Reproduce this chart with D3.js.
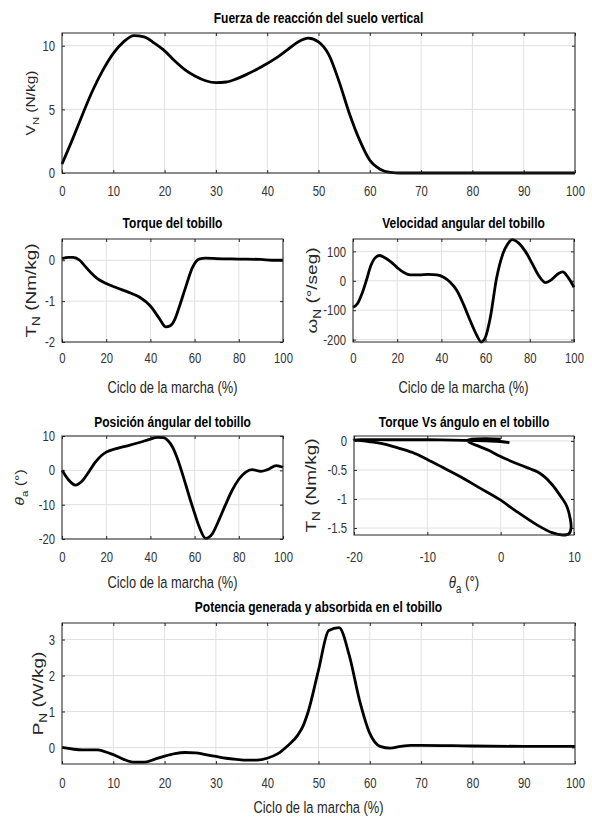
<!DOCTYPE html>
<html>
<head>
<meta charset="utf-8">
<script src="https://cdn.jsdelivr.net/npm/d3@7"></script>
<style>
body { margin: 0; background: #fff; }
text { font-family: "Liberation Sans", Arial, sans-serif; }
</style>
</head>
<body>
<div id="fig"></div>
<script>
// ---- data ----
// vertical ground reaction force (N/kg) vs % gait cycle
var vgrfPct = [0,2,4,6,8,10,12,14,16,18,20,22,24,26,28,30,32,34,36,38,40,42,44,46,48,50,52,54,56,58,60,62,64,66,70,80,90,100];
var vgrfVal = [0.7,2.6,4.6,6.5,8.1,9.4,10.3,10.8,10.7,10.2,9.6,8.8,8.1,7.6,7.25,7.1,7.15,7.4,7.75,8.15,8.6,9.1,9.7,10.3,10.6,10.3,9.3,7.2,4.7,2.6,1.0,0.3,0.05,0,0,0,0,0];

// ankle torque (Nm/kg)
var torquePct = [0,3,5,8,10,13,16,20,25,30,35,40,44,47,49,51,53,56,59,62,65,70,80,90,95,100];
var torqueVal = [0.04,0.07,0.07,0.0,-0.12,-0.3,-0.45,-0.57,-0.68,-0.78,-0.9,-1.12,-1.42,-1.63,-1.6,-1.45,-1.15,-0.65,-0.18,0.03,0.05,0.04,0.03,0.02,0.0,0.0];

// ankle angular velocity (deg/s)
var velPct = [0,2,4,6,8,10,12,14,17,20,23,26,30,34,38,41,44,47,50,53,56,58,60,62,65,68,70,72,75,78,81,84,87,90,93,95,97,100];
var velVal = [-90,-78,-45,0,50,78,86,80,65,45,28,20,20,22,20,12,-5,-33,-80,-135,-185,-208,-190,-130,10,95,125,140,128,100,60,18,-6,5,25,30,15,-22];

// ankle angle (deg)
var anglePct = [0,3,6,9,12,15,18,20,25,30,35,40,43,46,48,50,52,54,56,58,60,62,65,68,71,74,77,80,83,86,90,93,97,100];
var angleVal = [0,-2.8,-4.3,-3.2,-0.6,2.3,4.4,5.3,6.4,7.2,8.1,9.1,9.6,9.5,8.6,6.8,3.8,0,-4.2,-8.5,-12.5,-16.3,-19.8,-18.5,-14.5,-10,-5.8,-2.6,-0.6,0.2,-0.3,0.2,1.4,0.9];

// torque vs angle loop, in gait order
var loopAngle = [0,-2,-4,-4.5,-4.2,-3,-1.5,0,2,4,5,6,7,8,9,9.5,9.6,9.3,8.5,7,5,2,0,-3,-5,-8,-10,-12,-14,-16,-18,-20,-15,-10,-5,-2,0,1.2];
var loopTorque = [0.03,0.04,0.03,0.01,-0.03,-0.09,-0.17,-0.27,-0.38,-0.48,-0.53,-0.62,-0.75,-0.92,-1.12,-1.35,-1.5,-1.6,-1.62,-1.58,-1.45,-1.2,-1.02,-0.8,-0.65,-0.45,-0.32,-0.2,-0.12,-0.05,-0.01,0.02,0.02,0.02,0.01,0.0,-0.01,-0.03];

// ankle power (W/kg)
var powerPct = [0,4,7,8,10,12,14,16,18,20,22,24,26,28,30,32,34,36,38,40,42,44,46,47,48,50,52,54,56,58,60,62,64,66,68,70,80,90,100];
var powerVal = [0,-0.07,-0.07,-0.1,-0.2,-0.33,-0.41,-0.41,-0.33,-0.24,-0.17,-0.14,-0.15,-0.2,-0.25,-0.3,-0.33,-0.35,-0.35,-0.3,-0.18,0.05,0.35,0.6,1.0,2.15,3.25,3.33,2.56,1.31,0.39,0.03,-0.02,0.03,0.06,0.06,0.04,0.03,0.03];

// tick values
var ticksPct10 = [0,10,20,30,40,50,60,70,80,90,100];
var ticksPct20 = [0,20,40,60,80,100];
var ticksVgrf = [0,5,10];
var ticksTorque = [-2,-1,0];
var ticksVel = [-200,-100,0,100];
var ticksAngle = [-20,-10,0,10];
var ticksLoopX = [-20,-10,0,10];
var ticksLoopY = [-1.5,-1,-0.5,0];
var ticksPower = [0,1,2,3];

// ---- drawing ----
var W = 592, H = 819;
var SX = 0.78;   // the original figure was squeezed horizontally
var INK = "#262626";

var svg = d3.select("#fig").append("svg")
    .attr("width", W)
    .attr("height", H);

var fmt = function(d) { return String(d); };

// text made of parts: {t: string, sub: bool, it: bool}
function label(x, y, parts, size, opts) {
    opts = opts || {};
    var tr = "translate(" + x + "," + y + ")";
    if (opts.rotate) tr += " rotate(-90) scale(1," + SX + ")";
    else tr += " scale(" + SX + ",1)";
    var t = svg.append("text")
        .attr("transform", tr)
        .attr("text-anchor", "middle")
        .attr("font-size", size)
        .attr("font-weight", opts.bold ? "bold" : null)
        .attr("fill", opts.color || INK);
    var shift = 0;
    parts.forEach(function(p) {
        var s = t.append("tspan").text(p.t);
        if (p.sub) {
            s.attr("font-size", size * 0.72).attr("dy", size * 0.3 - shift);
            shift = size * 0.3;
        } else if (shift) {
            s.attr("dy", -shift);
            shift = 0;
        }
        if (p.it) s.attr("font-style", "italic");
    });
}

function panel(p) {
    var x = d3.scaleLinear().domain(p.xDom).range([p.left, p.right]);
    var y = d3.scaleLinear().domain(p.yDom).range([p.bottom, p.top]);
    var g = svg.append("g");

    // grid
    g.append("g").selectAll("line")
        .data(p.xTicks).enter().append("line")
        .attr("x1", function(d) { return x(d); })
        .attr("x2", function(d) { return x(d); })
        .attr("y1", p.top).attr("y2", p.bottom)
        .attr("stroke", "#e0e0e0");
    g.append("g").selectAll("line")
        .data(p.yTicks).enter().append("line")
        .attr("y1", function(d) { return y(d); })
        .attr("y2", function(d) { return y(d); })
        .attr("x1", p.left).attr("x2", p.right)
        .attr("stroke", "#e0e0e0");

    // axes, ticks pointing inwards
    var xa = g.append("g")
        .attr("transform", "translate(0," + p.bottom + ")")
        .call(d3.axisBottom(x).tickValues(p.xTicks).tickFormat(fmt)
            .tickSizeInner(-3).tickSizeOuter(0).tickPadding(p.xPad));
    var ya = g.append("g")
        .attr("transform", "translate(" + p.left + ",0)")
        .call(d3.axisLeft(y).tickValues(p.yTicks).tickFormat(fmt)
            .tickSizeInner(-3).tickSizeOuter(0).tickPadding(7 / SX));
    g.append("g")
        .attr("transform", "translate(0," + p.top + ")")
        .call(d3.axisTop(x).tickValues(p.xTicks).tickFormat("").tickSizeInner(-3).tickSizeOuter(0));
    g.append("g")
        .attr("transform", "translate(" + p.right + ",0)")
        .call(d3.axisRight(y).tickValues(p.yTicks).tickFormat("").tickSizeInner(-3).tickSizeOuter(0));
    g.selectAll(".domain").remove();
    g.selectAll(".tick line").attr("stroke", INK);
    [xa, ya].forEach(function(a) {
        a.attr("font-size", 14.5).attr("font-family", null);
        a.selectAll("text")
            .attr("fill", "#333")
            .attr("transform", "scale(" + SX + ",1)");
    });

    // data line
    var line = d3.line()
        .x(function(i) { return x(p.xs[i]); })
        .y(function(i) { return y(p.ys[i]); })
        .curve(p.curve || d3.curveMonotoneX);
    g.append("path")
        .datum(d3.range(p.xs.length))
        .attr("d", line)
        .attr("fill", "none")
        .attr("stroke", "#000")
        .attr("stroke-width", 2.8)
        .attr("stroke-linejoin", "round");

    // box
    g.append("rect")
        .attr("x", p.left).attr("y", p.top)
        .attr("width", p.right - p.left).attr("height", p.bottom - p.top)
        .attr("fill", "none")
        .attr("stroke", INK);

    var cx = (p.left + p.right) / 2;
    label(cx, p.titleY, [{t: p.title}], 15.4, {bold: true, color: "#000"});
    if (p.xLabel) label(cx, p.xLabelY, p.xLabel, p.xLabelSize || 16.5);
    label(p.yLabelX, (p.top + p.bottom) / 2, p.yLabel, p.yLabelSize || 19, {rotate: true});
}

var ciclo = [{t: "Ciclo de la marcha (%)"}];

panel({
    left: 62, right: 575, top: 33, bottom: 173,
    xDom: [0, 100], yDom: [0, 11],
    xTicks: ticksPct10, yTicks: ticksVgrf, xPad: 13,
    xs: vgrfPct, ys: vgrfVal,
    title: "Fuerza de reacción del suelo vertical", titleY: 23,
    yLabel: [{t: "V"}, {t: "N", sub: true}, {t: " (N/kg)"}], yLabelX: 35, yLabelSize: 15.5
});

panel({
    left: 62, right: 283, top: 239, bottom: 342,
    xDom: [0, 100], yDom: [-2, 0.52],
    xTicks: ticksPct20, yTicks: ticksTorque, xPad: 11,
    xs: torquePct, ys: torqueVal,
    title: "Torque del tobillo", titleY: 228,
    xLabel: ciclo, xLabelY: 393,
    yLabel: [{t: "T"}, {t: "N", sub: true}, {t: " (Nm/kg)"}], yLabelX: 36
});

panel({
    left: 353, right: 574, top: 239, bottom: 342,
    xDom: [0, 100], yDom: [-208, 142],
    xTicks: ticksPct20, yTicks: ticksVel, xPad: 11,
    xs: velPct, ys: velVal,
    title: "Velocidad angular del tobillo", titleY: 228,
    xLabel: ciclo, xLabelY: 393,
    yLabel: [{t: "ω"}, {t: "N", sub: true}, {t: " (°/seg)"}], yLabelX: 317
});

panel({
    left: 62, right: 283, top: 436, bottom: 539,
    xDom: [0, 100], yDom: [-20, 10],
    xTicks: ticksPct20, yTicks: ticksAngle, xPad: 13,
    xs: anglePct, ys: angleVal,
    title: "Posición ángular del tobillo", titleY: 427,
    xLabel: ciclo, xLabelY: 588,
    yLabel: [{t: "θ", it: true}, {t: "a", sub: true}, {t: " (°)"}], yLabelX: 24, yLabelSize: 16
});

panel({
    left: 354, right: 574, top: 436, bottom: 535,
    xDom: [-20, 10], yDom: [-1.62, 0.085],
    xTicks: ticksLoopX, yTicks: ticksLoopY, xPad: 17,
    xs: loopAngle, ys: loopTorque, curve: d3.curveCatmullRom.alpha(0.5),
    title: "Torque Vs ángulo en el tobillo", titleY: 427,
    xLabel: [{t: "θ", it: true}, {t: "a", sub: true}, {t: " (°)"}], xLabelY: 588, xLabelSize: 17,
    yLabel: [{t: "T"}, {t: "N", sub: true}, {t: " (Nm/kg)"}], yLabelX: 316
});

panel({
    left: 62, right: 575, top: 623, bottom: 764,
    xDom: [0, 100], yDom: [-0.46, 3.46],
    xTicks: ticksPct10, yTicks: ticksPower, xPad: 14,
    xs: powerPct, ys: powerVal,
    title: "Potencia generada y absorbida en el tobillo", titleY: 612,
    xLabel: ciclo, xLabelY: 813,
    yLabel: [{t: "P"}, {t: "N", sub: true}, {t: " (W/kg)"}], yLabelX: 43
});
</script>
</body>
</html>
